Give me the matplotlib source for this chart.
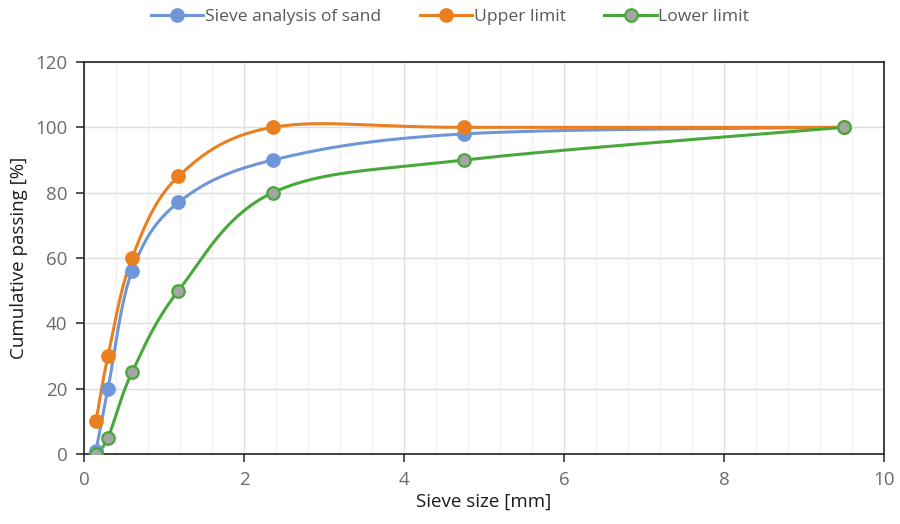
import numpy as np
import matplotlib
matplotlib.use("Agg")
import matplotlib.pyplot as plt
from matplotlib.ticker import MultipleLocator

plt.rcParams['font.family'] = ['Open Sans', 'DejaVu Sans']

sieve_size = [0.15, 0.3, 0.6, 1.18, 2.36, 4.75, 9.5]
sand = [1, 20, 56, 77, 90, 98, 100]
upper = [10, 30, 60, 85, 100, 100, 100]
lower = [0, 5, 25, 50, 80, 90, 100]

XMAX, YMAX = 10, 120

fig = plt.figure(figsize=(9, 5.24), dpi=100)
ax = fig.add_axes([84/900, 70/524, 800/900, 392/524])
ax.set_xlim(0, XMAX)
ax.set_ylim(0, YMAX)


def smooth(xs, ys, sx, sy, n=40):
    # Excel-style smoothed line: cubic Bezier with control points from neighbours
    P = np.column_stack([np.asarray(xs, float) * sx, np.asarray(ys, float) * sy])
    out = []
    m = len(P)
    for i in range(m - 1):
        p0 = P[i - 1] if i > 0 else P[i]
        p1 = P[i]
        p2 = P[i + 1]
        p3 = P[i + 2] if i + 2 < m else P[i + 1]
        c1 = p1 + (p2 - p0) / 6.0
        c2 = p2 - (p3 - p1) / 6.0
        t = np.linspace(0, 1, n)[:, None]
        seg = ((1 - t) ** 3) * p1 + 3 * ((1 - t) ** 2) * t * c1 + 3 * (1 - t) * t ** 2 * c2 + t ** 3 * p2
        out.append(seg if i == 0 else seg[1:])
    S = np.vstack(out)
    return S[:, 0] / sx, S[:, 1] / sy


sx = 800 / XMAX
sy = 392 / YMAX

series = [
    ("Sieve analysis of sand", sand, "#6f96d8", "#6f96d8"),
    ("Upper limit", upper, "#ea7f1f", "#ea7f1f"),
    ("Lower limit", lower, "#47a93a", "#a5a5a5"),
]

for label, ys, col, face in series:
    cx, cy = smooth(sieve_size, ys, sx, sy)
    ax.plot(cx, cy, color=col, lw=2.2, zorder=3, solid_capstyle='round')
    ax.plot(sieve_size, ys, linestyle='none', marker='o', ms=9,
            markerfacecolor=face, markeredgecolor=col, markeredgewidth=1.6, zorder=4)
    ax.plot([], [], color=col, lw=2.2, marker='o', ms=9,
            markerfacecolor=face, markeredgecolor=col, markeredgewidth=1.6, label=label)

ax.xaxis.set_major_locator(MultipleLocator(2))
ax.xaxis.set_minor_locator(MultipleLocator(0.4))
ax.yaxis.set_major_locator(MultipleLocator(20))
ax.grid(which='major', axis='both', color='#dedede', lw=1.0, zorder=0)
ax.grid(which='minor', axis='x', color='#f0f0f0', lw=0.9, zorder=0)
ax.set_axisbelow(True)

for s in ax.spines.values():
    s.set_color('#222222')
    s.set_linewidth(1.2)

ax.tick_params(which='major', direction='out', length=6, width=1.1, color='#222222',
               labelsize=13.5, labelcolor='#6b6b6b', pad=6)
ax.tick_params(which='minor', length=0)

ax.set_xlabel("Sieve size [mm]", fontsize=13.5, color='#1a1a1a', labelpad=3)
ax.set_ylabel("Cumulative passing [%]", fontsize=13.5, color='#1a1a1a', labelpad=5)

leg = fig.legend(loc='center', bbox_to_anchor=(0.5, 1 - 17/524), ncol=3, frameon=False,
                 fontsize=12.6, handlelength=3.0, handletextpad=0.1, columnspacing=2.2,
                 labelcolor='#595959')

fig.savefig("out.png", dpi=100)
